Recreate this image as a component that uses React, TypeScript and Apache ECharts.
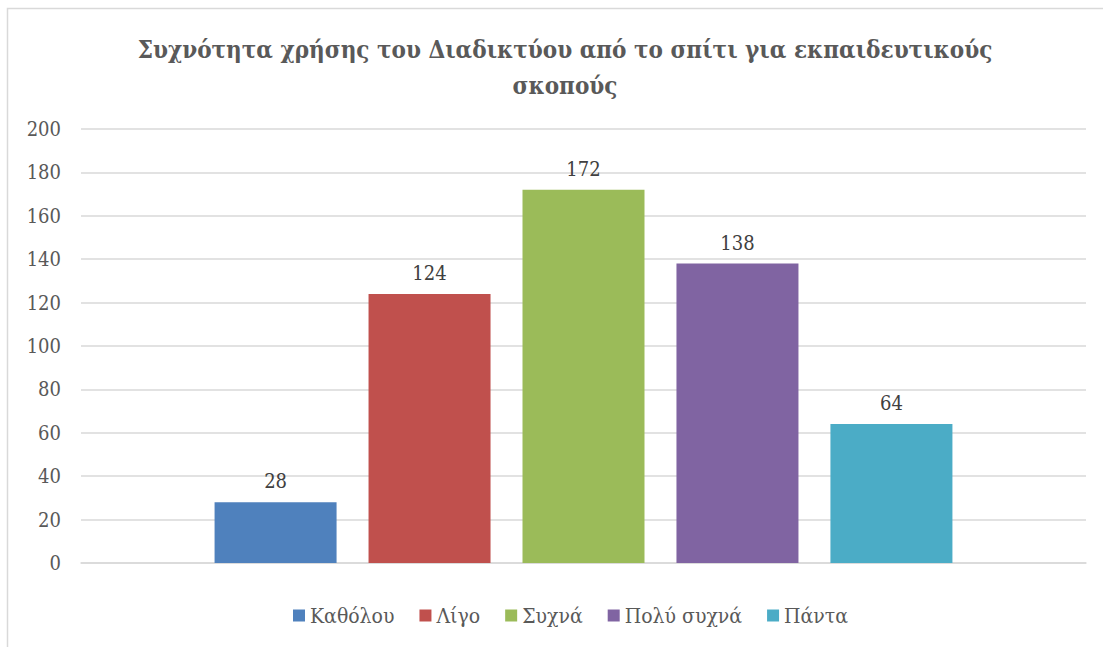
import React, { useEffect, useRef } from "react";
import * as echarts from "echarts";

const titleText = "Συχνότητα χρήσης του Διαδικτύου από το σπίτι για εκπαιδευτικούς\nσκοπούς";
const seriesNames = ["Καθόλου", "Λίγο", "Συχνά", "Πολύ συχνά", "Πάντα"];
const seriesValues = [28, 124, 172, 138, 64];
const seriesColors = ["#4F81BD", "#C0504D", "#9BBB59", "#8064A2", "#4BACC6"];
const categories = [""];

const FONT = "DejaVu Serif Condensed";

export default function App() {
  const ref = useRef<HTMLDivElement>(null);
  useEffect(() => {
    if (!ref.current) return;
    const chart = echarts.init(ref.current, undefined, { renderer: "svg" });
    chart.setOption({
      animation: false,
      backgroundColor: "#ffffff",
      textStyle: { fontFamily: FONT },
      title: {
        text: titleText,
        left: 560,
        top: 26,
        textAlign: "center",
        textStyle: {
          fontFamily: FONT,
          fontSize: 24,
          fontWeight: "bold",
          color: "#595959",
          lineHeight: 36,
        },
      },
      graphic: [
        {
          type: "polyline",
          shape: { points: [[7.5, 647], [7.5, 8.5], [1103, 8.5]] },
          style: { stroke: "#d9d9d9", lineWidth: 1.5, fill: null },
          silent: true,
        },
      ],
      legend: {
        bottom: 16,
        left: 288,
        itemWidth: 12,
        itemHeight: 12,
        itemGap: 25,
        icon: "rect",
        textStyle: { fontFamily: FONT, fontSize: 21, color: "#595959" },
        data: seriesNames,
      },
      grid: { left: 81, right: 17, top: 129, bottom: 84, containLabel: false },
      xAxis: {
        type: "category",
        data: categories,
        axisLine: { lineStyle: { color: "#d9d9d9", width: 1.5 } },
        axisTick: { show: false },
        axisLabel: { show: false },
      },
      yAxis: {
        type: "value",
        min: 0,
        max: 200,
        interval: 20,
        axisLine: { show: false },
        axisTick: { show: false },
        axisLabel: { fontFamily: FONT, fontSize: 20, color: "#595959", margin: 20 },
        splitLine: { lineStyle: { color: "#d9d9d9", width: 1.5 } },
      },
      series: seriesNames.map((name, i) => ({
        name,
        type: "bar",
        data: [seriesValues[i]],
        barWidth: 122,
        barGap: "26.2%",
        itemStyle: { color: seriesColors[i] },
        label: {
          show: true,
          position: "top",
          distance: 11,
          fontFamily: FONT,
          fontSize: 20,
          color: "#404040",
        },
      })),
    });
    return () => chart.dispose();
  }, []);
  return (
    <div
      ref={ref}
      style={{ position: "fixed", left: 0, top: 0, width: 1103, height: 647 }}
    />
  );
}
